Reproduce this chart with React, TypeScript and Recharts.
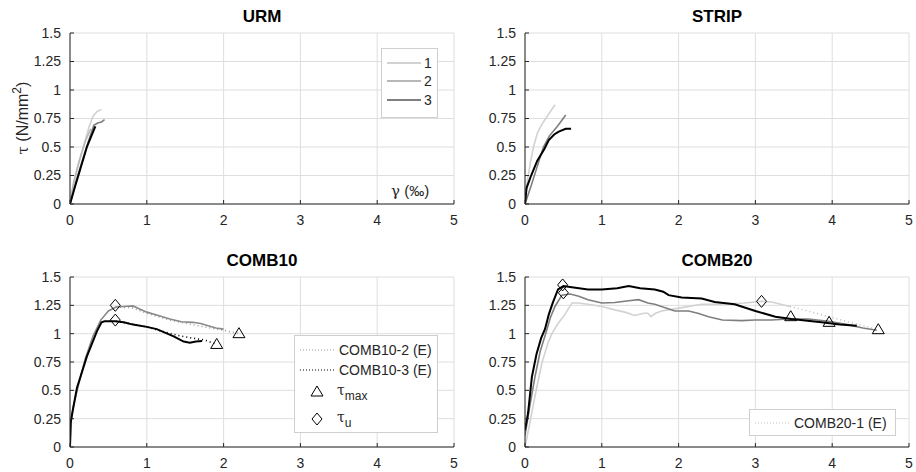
import { ComposedChart, Line, Scatter, XAxis, YAxis, CartesianGrid } from 'recharts';

type Pt = { x: number; y: number };
const toPts = (a: number[][]): Pt[] => a.map(([x, y]) => ({ x, y }));

const xTicks = [0, 1, 2, 3, 4, 5];
const yTicks = [0, 0.25, 0.5, 0.75, 1, 1.25, 1.5];

const LIGHT = '#d2d2d2';
const MID = '#b8b8b8';
const DARK = '#7f7f7f';
const BLACK = '#000000';
const FONT = '"Liberation Sans", Arial, Helvetica, sans-serif';

// URM
const urm1 = toPts([[0, 0], [0.04, 0.15], [0.1, 0.32], [0.18, 0.52], [0.25, 0.68], [0.3, 0.77], [0.35, 0.81], [0.41, 0.83]]);
const urm2 = toPts([[0, 0], [0.05, 0.2], [0.12, 0.38], [0.2, 0.55], [0.27, 0.66]]);
const urm3 = toPts([[0, 0], [0.08, 0.2], [0.16, 0.38], [0.24, 0.55], [0.31, 0.69], [0.36, 0.71], [0.41, 0.72], [0.45, 0.74]]);
const urm4 = toPts([[0, 0], [0.06, 0.14], [0.14, 0.32], [0.22, 0.5], [0.28, 0.6], [0.33, 0.68]]);

// STRIP
const strip1 = toPts([[0, 0.02], [0.03, 0.2], [0.07, 0.36], [0.11, 0.5], [0.16, 0.62], [0.22, 0.7], [0.3, 0.78], [0.39, 0.87]]);
const strip2 = toPts([[0, 0], [0.08, 0.16], [0.16, 0.33], [0.24, 0.5], [0.32, 0.6], [0.42, 0.68], [0.53, 0.78]]);
const strip3 = toPts([[0, 0], [0.02, 0.14], [0.08, 0.25], [0.16, 0.38], [0.25, 0.48], [0.31, 0.56], [0.38, 0.61], [0.44, 0.635], [0.53, 0.66], [0.6, 0.66]]);

// COMB10
const c10gray = toPts([[0, 0], [0.01, 0.2], [0.04, 0.35], [0.1, 0.52], [0.2, 0.78], [0.3, 0.98], [0.4, 1.12], [0.5, 1.2], [0.6, 1.235], [0.7, 1.24], [0.82, 1.245], [0.9, 1.22], [1.0, 1.19], [1.15, 1.16], [1.3, 1.13], [1.45, 1.105], [1.6, 1.1], [1.7, 1.09], [1.8, 1.07], [1.9, 1.05], [2.0, 1.04]]);
const c10black = toPts([[0, 0], [0.01, 0.22], [0.03, 0.3], [0.09, 0.52], [0.22, 0.8], [0.35, 1.02], [0.41, 1.1], [0.45, 1.11], [0.59, 1.11], [0.7, 1.1], [0.82, 1.08], [1.0, 1.06], [1.13, 1.04], [1.35, 0.976], [1.48, 0.93], [1.56, 0.92], [1.64, 0.93], [1.72, 0.935]]);
const c10grayDot = toPts([[0.6, 1.235], [0.8, 1.23], [1.0, 1.18], [1.3, 1.12], [1.6, 1.08], [1.9, 1.04], [2.0, 1.03], [2.2, 1.0]]);
const c10blackDot = toPts([[0.6, 1.11], [1.0, 1.06], [1.2, 1.02], [1.4, 0.985], [1.6, 0.96], [1.75, 0.945], [1.91, 0.905]]);
const c10tri = toPts([[2.2, 1.0], [1.91, 0.905]]);
const c10dia = toPts([[0.59, 1.25], [0.59, 1.12]]);

// COMB20
const c20light = toPts([[0, 0], [0.06, 0.2], [0.13, 0.45], [0.22, 0.74], [0.3, 0.92], [0.35, 1.0], [0.43, 1.09], [0.52, 1.17], [0.61, 1.27], [0.69, 1.27], [0.82, 1.26], [1.0, 1.24], [1.17, 1.21], [1.3, 1.19], [1.43, 1.16], [1.55, 1.18], [1.6, 1.18], [1.64, 1.15], [1.7, 1.18], [1.78, 1.2], [2.04, 1.23], [2.3, 1.26], [2.56, 1.26], [2.86, 1.27], [3.08, 1.285], [3.21, 1.28], [3.45, 1.24]]);
const c20dark = toPts([[0, 0.1], [0.06, 0.35], [0.13, 0.62], [0.2, 0.85], [0.26, 0.98], [0.33, 1.14], [0.39, 1.24], [0.48, 1.34], [0.59, 1.35], [0.7, 1.33], [0.82, 1.3], [1.0, 1.27], [1.17, 1.275], [1.35, 1.29], [1.48, 1.3], [1.6, 1.27], [1.69, 1.26], [1.95, 1.2], [2.13, 1.2], [2.25, 1.18], [2.39, 1.15], [2.57, 1.12], [2.82, 1.115], [3.0, 1.12], [3.21, 1.12], [3.43, 1.13], [3.69, 1.13], [3.95, 1.11], [4.2, 1.08], [4.4, 1.05], [4.58, 1.03]]);
const c20black = toPts([[0, 0.15], [0.04, 0.3], [0.09, 0.62], [0.15, 0.82], [0.21, 0.96], [0.26, 1.04], [0.31, 1.17], [0.36, 1.27], [0.43, 1.39], [0.5, 1.42], [0.61, 1.41], [0.82, 1.39], [1.0, 1.39], [1.2, 1.4], [1.35, 1.42], [1.5, 1.4], [1.69, 1.39], [1.8, 1.37], [1.87, 1.34], [2.04, 1.32], [2.3, 1.31], [2.47, 1.28], [2.73, 1.26], [3.0, 1.2], [3.26, 1.15], [3.47, 1.13], [3.86, 1.1], [4.1, 1.08], [4.32, 1.07]]);
const c20dot = toPts([[3.45, 1.24], [4.6, 1.035]]);
const c20tri = toPts([[3.46, 1.15], [3.96, 1.1], [4.6, 1.035]]);
const c20dia = toPts([[0.49, 1.43], [0.5, 1.36], [3.08, 1.285]]);

const Tri = (p: any) => (
  <path d={`M${p.cx},${p.cy - 6}L${p.cx + 6},${p.cy + 4}L${p.cx - 6},${p.cy + 4}Z`} fill="none" stroke="#000" strokeWidth={1} />
);
const Dia = (p: any) => (
  <path d={`M${p.cx},${p.cy - 6}L${p.cx + 5},${p.cy}L${p.cx},${p.cy + 6}L${p.cx - 5},${p.cy}Z`} fill="none" stroke="#000" strokeWidth={1} />
);

type Series = { data: Pt[]; color: string; width?: number; dotted?: boolean };

function Panel({ title, left, top, offL, offR, offT, offB, series, tri = [], dia = [] }: {
  title: string; left: number; top: number; offL: number; offR: number; offT: number; offB: number;
  series: Series[]; tri?: Pt[]; dia?: Pt[];
}) {
  const W = 458, H = 236;
  const axisStyle = { fill: '#262626', fontSize: 14, fontFamily: FONT };
  return (
    <div style={{ position: 'absolute', left, top, width: W, height: H }}>
      <div style={{
        position: 'absolute', left: offL, width: W - offL - offR, top: offT - 25, textAlign: 'center',
        fontWeight: 'bold', fontSize: 17, color: '#000', lineHeight: '18px',
      }}>{title}</div>
      <ComposedChart width={W} height={H} margin={{ top: offT, right: offR, left: offL - 40, bottom: offB - 20 }}>
        <CartesianGrid stroke="#dedede" />
        <XAxis
          type="number" dataKey="x" domain={[0, 5]} ticks={xTicks} height={20}
          tick={axisStyle} tickSize={-4} tickMargin={15}
          axisLine={{ stroke: '#262626' }} tickLine={{ stroke: '#262626' }} allowDataOverflow
        />
        <YAxis
          type="number" dataKey="y" domain={[0, 1.5]} ticks={yTicks} width={40}
          tick={axisStyle} tickSize={-4} tickMargin={13}
          axisLine={{ stroke: '#262626' }} tickLine={{ stroke: '#262626' }} allowDataOverflow
        />
        {series.map((s, i) => (
          <Line
            key={i} data={s.data} dataKey="y" type="linear" stroke={s.color}
            strokeWidth={s.width ?? 1.6} strokeDasharray={s.dotted ? '1 3' : undefined}
            dot={false} activeDot={false} isAnimationActive={false}
          />
        ))}
        <Scatter data={tri} shape={Tri} isAnimationActive={false} />
        <Scatter data={dia} shape={Dia} isAnimationActive={false} />
      </ComposedChart>
    </div>
  );
}

const legendBox = {
  position: 'absolute' as const, background: '#fff', border: '1px solid #cfcfcf', boxSizing: 'border-box' as const,
};

function LegLine({ color, dotted, y }: { color: string; dotted?: boolean; y: number }) {
  return (
    <svg style={{ position: 'absolute', left: 5, top: y - 2 }} width={34} height={4}>
      <line x1={0} y1={2} x2={34} y2={2} stroke={color} strokeWidth={dotted ? 1.2 : 1.8} strokeDasharray={dotted ? '1 2' : undefined} />
    </svg>
  );
}

export default function App() {
  return (
    <div style={{ position: 'absolute', left: 0, top: 0, width: 916, height: 472, background: '#fff', fontFamily: FONT, color: '#262626', overflow: 'hidden' }}>
      <Panel title="URM" left={0} top={0} offL={70} offR={4} offT={33} offB={32}
        series={[{ data: urm1, color: LIGHT }, { data: urm2, color: MID }, { data: urm3, color: DARK }, { data: urm4, color: BLACK, width: 2 }]} />
      <Panel title="STRIP" left={458} top={0} offL={67} offR={7} offT={33} offB={32}
        series={[{ data: strip1, color: LIGHT }, { data: strip2, color: DARK }, { data: strip3, color: BLACK, width: 2 }]} />
      <Panel title="COMB10" left={0} top={236} offL={70} offR={4} offT={41} offB={25}
        series={[
          { data: c10grayDot, color: '#999999', dotted: true },
          { data: c10blackDot, color: BLACK, dotted: true },
          { data: c10gray, color: '#8a8a8a' },
          { data: c10black, color: BLACK, width: 2 },
        ]}
        tri={c10tri} dia={c10dia} />
      <Panel title="COMB20" left={458} top={236} offL={67} offR={7} offT={41} offB={25}
        series={[
          { data: c20dot, color: '#bdbdbd', dotted: true },
          { data: c20light, color: LIGHT },
          { data: c20dark, color: DARK },
          { data: c20black, color: BLACK, width: 2 },
        ]}
        tri={c20tri} dia={c20dia} />

      {/* y label */}
      <div style={{ position: 'absolute', left: 21, top: 118, transform: 'translate(-50%, -50%) rotate(-90deg)', whiteSpace: 'nowrap', fontSize: 16 }}>
        <span style={{ fontFamily: '"DejaVu Serif", serif', fontSize: 15 }}>τ</span> (N/mm<sup style={{ fontSize: 12 }}>2</sup>)
      </div>
      <div style={{ position: 'absolute', left: 391, top: 182, fontSize: 15, whiteSpace: 'nowrap' }}>
        <span style={{ fontFamily: '"DejaVu Serif", serif' }}>γ</span> (‰)
      </div>

      {/* URM legend */}
      <div style={{ ...legendBox, left: 381, top: 48, width: 57, height: 70 }}>
        <LegLine color={LIGHT} y={14} />
        <LegLine color={MID} y={32} />
        <LegLine color={DARK} y={51} />
        {['1', '2', '3'].map((t, i) => (
          <div key={t} style={{ position: 'absolute', left: 42, top: [6, 24, 43][i], fontSize: 14, lineHeight: '16px' }}>{t}</div>
        ))}
      </div>

      {/* COMB10 legend */}
      <div style={{ ...legendBox, left: 294, top: 335, width: 144, height: 98 }}>
        <LegLine color="#999999" dotted y={14} />
        <LegLine color={BLACK} dotted y={34} />
        <div style={{ position: 'absolute', left: 44, top: 6, fontSize: 14, lineHeight: '16px', whiteSpace: 'nowrap' }}>COMB10-2 (E)</div>
        <div style={{ position: 'absolute', left: 44, top: 26, fontSize: 14, lineHeight: '16px', whiteSpace: 'nowrap' }}>COMB10-3 (E)</div>
        <svg style={{ position: 'absolute', left: 14, top: 48 }} width={16} height={16}>
          <path d="M8,2L14,12L2,12Z" fill="none" stroke="#000" />
        </svg>
        <svg style={{ position: 'absolute', left: 14, top: 75 }} width={16} height={16}>
          <path d="M8,2L13,8L8,14L3,8Z" fill="none" stroke="#000" />
        </svg>
        <div style={{ position: 'absolute', left: 42, top: 46, fontSize: 14, lineHeight: '16px', whiteSpace: 'nowrap' }}>
          <span style={{ fontFamily: '"DejaVu Serif", serif' }}>τ</span>
          <span style={{ fontSize: 12, position: 'relative', top: 5 }}>max</span>
        </div>
        <div style={{ position: 'absolute', left: 42, top: 73, fontSize: 14, lineHeight: '16px', whiteSpace: 'nowrap' }}>
          <span style={{ fontFamily: '"DejaVu Serif", serif' }}>τ</span>
          <span style={{ fontSize: 12, position: 'relative', top: 5 }}>u</span>
        </div>
      </div>

      {/* COMB20 legend */}
      <div style={{ ...legendBox, left: 749, top: 409, width: 147, height: 27 }}>
        <LegLine color="#bdbdbd" dotted y={13} />
        <div style={{ position: 'absolute', left: 44, top: 5, fontSize: 14, lineHeight: '16px', whiteSpace: 'nowrap' }}>COMB20-1 (E)</div>
      </div>
    </div>
  );
}
